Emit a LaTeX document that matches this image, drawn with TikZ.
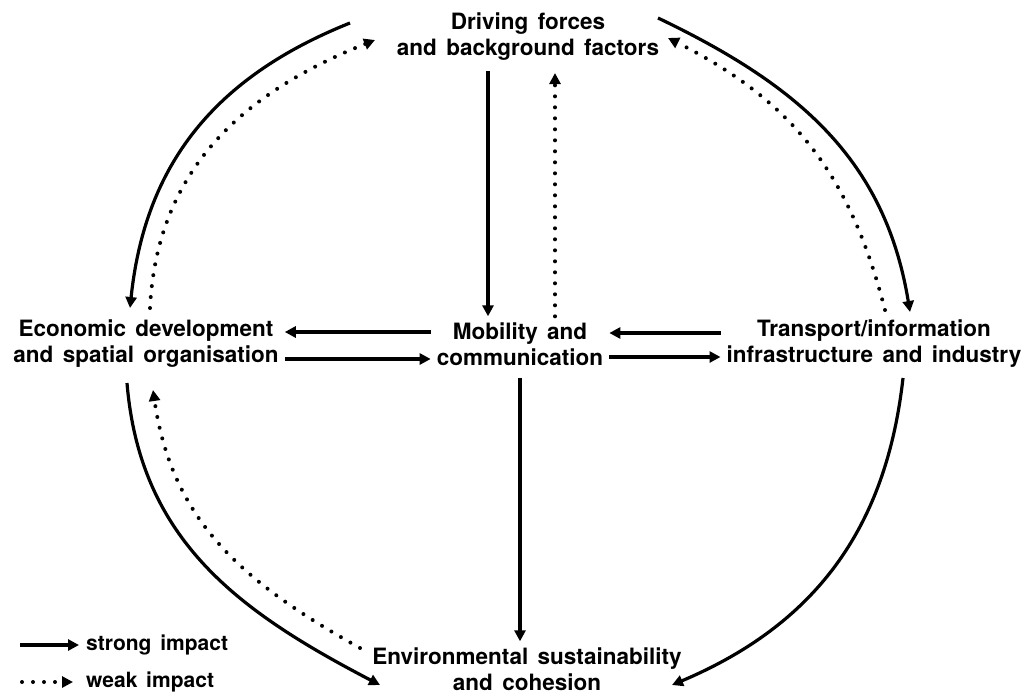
\documentclass[tikz,border=0pt]{standalone}
\usepackage{fontspec}
\setmainfont{TeX Gyre Heros}[WordSpace=1.5]
\usetikzlibrary{arrows.meta,positioning}

\begin{document}
\begin{tikzpicture}[x=1pt,y=-1pt,
  box/.style={align=center,inner sep=6pt,font=\bfseries\fontsize{22.5}{26}\selectfont},
  key/.style={anchor=west,inner sep=7pt,font=\bfseries\fontsize{21}{24}\selectfont},
  strongline/.style={line width=3.2pt,-{Triangle[length=11pt,width=11pt]}},
  weakline/.style={line width=4pt,line cap=round,dash pattern=on 0pt off 11pt,-{Triangle[length=11pt,width=11pt]}}]
\useasboundingbox (0,0) rectangle (1025,696);

% the five groups of factors
\node[box] (drive) at (528,37) {Driving forces\\and background factors};
\node[box] (econ) at (146,344) {Economic development\\and spatial organisation};
\node[box] (mob) at (520,344) {Mobility and\\communication};
\node[box] (infra) at (874,344) {Transport/information\\infrastructure and industry};
\node[box] (env) at (527,669) {Environmental sustainability\\and cohesion};

% links through the middle
\draw[strongline,shorten <=4pt] ([xshift=-32pt]mob.north |- drive.south) -- ([xshift=-32pt]mob.north);
\draw[weakline,shorten >=6pt] ([xshift=35pt]mob.north) -- ([xshift=35pt]mob.north |- drive.south);
\draw[strongline] ([yshift=12pt]mob.west) -- ([yshift=12pt]econ.east);
\draw[strongline] ([yshift=-15pt]econ.east) -- ([yshift=-15pt]mob.west);
\draw[strongline] ([yshift=11pt]infra.west) -- ([yshift=11pt]mob.east);
\draw[strongline] ([yshift=-13pt]mob.east) -- ([yshift=-13pt]infra.west);
\draw[strongline,shorten <=6pt] (mob.south) -- (mob.south |- env.north);

% ends of the outer arcs
\coordinate (tl1) at (350,23);  \coordinate (tl2) at (130,308);
\coordinate (tl3) at (150,308); \coordinate (tl4) at (375,40);
\coordinate (tr1) at (658,18);  \coordinate (tr2) at (910,312);
\coordinate (tr3) at (885,310); \coordinate (tr4) at (668,38);
\coordinate (bl1) at (127,383); \coordinate (bl2) at (380,685);
\coordinate (bl3) at (360,648); \coordinate (bl4) at (153,390);
\coordinate (br1) at (903,378); \coordinate (br2) at (672,685);

% outer arcs
\draw[strongline] (tl1) .. controls +(-135,54) and +(15,-144) .. (tl2);
\draw[weakline] (tl3) .. controls +(7,-140) and +(-130,52) .. (tl4);
\draw[strongline] (tr1) .. controls +(140,67) and +(-25,-153) .. (tr2);
\draw[weakline] (tr3) .. controls +(-35,-136) and +(125,63) .. (tr4);
\draw[strongline] (bl1) .. controls +(13,158) and +(-140,-73) .. (bl2);
\draw[weakline] (bl3) .. controls +(-116,-65) and +(19,132) .. (bl4);
\draw[strongline] (br1) .. controls +(-17,152) and +(142,-60) .. (br2);

% key
\coordinate (k1) at (20,645);
\coordinate (k2) at (22,682);
\node[key] (strongkey) at (79,645) {strong impact};
\node[key] (weakkey) at (79,682) {weak impact};
\draw[strongline] (k1) -- (strongkey.west);
\draw[weakline,shorten >=6pt] (k2) -- (weakkey.west);
\end{tikzpicture}
\end{document}
